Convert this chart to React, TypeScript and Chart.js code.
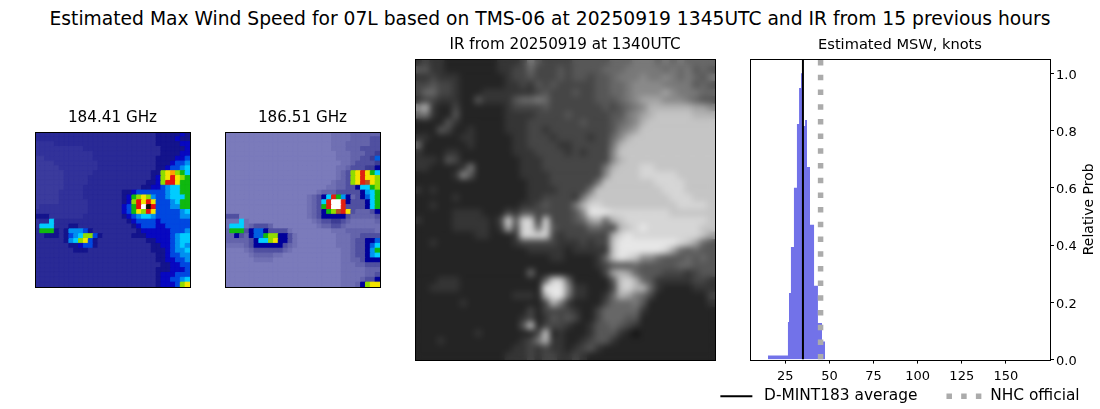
import { useEffect, useRef } from "react";
import { Chart, registerables } from "chart.js";

Chart.register(...registerables);

const FONT = "'DejaVu Sans', sans-serif";
const suptitle = "Estimated Max Wind Speed for 07L based on TMS-06 at 20250919 1345UTC and IR from 15 previous hours";
const title184 = "184.41 GHz";
const title186 = "186.51 GHz";
const titleIR = "IR from 20250919 at 1340UTC";
const titleMSW = "Estimated MSW, knots";
const yAxisTitle = "Relative Prob";
const legendMean = "D-MINT183 average";
const legendNHC = "NHC official";

const palette184: Record<string, string> = {
  "0": "#3b3b9d", "1": "#32329a", "2": "#2a2a96", "3": "#14148c", "4": "#0808c0", "5": "#0048e0", "6": "#0090f0",
  "7": "#00ccff", "8": "#10b810", "9": "#90dc00", a: "#f4e400", b: "#ffa000", c: "#e81010", d: "#101010", e: "#ffffff",
};
const palette186: Record<string, string> = {
  "0": "#7b7bbb", "1": "#7070b3", "2": "#6464ab", "3": "#5050a0", "4": "#3d3d94", n: "#00009a", "5": "#0060e0",
  "6": "#0098f0", "7": "#00d0ff", "8": "#10b810", "9": "#90dc00", a: "#f4e400", b: "#ffa000", c: "#e02010",
  k: "#b85020", d: "#101010", e: "#ffffff",
};

const grid184 = [
  "22222222 22222222 22222222 23333343",
  "22222222 22222222 22222222 23333433",
  "11112222 22222222 22222222 23333344",
  "11111111 11222222 22222222 22333334",
  "11111111 11112222 22222222 22333344",
  "00111111 11112222 22222222 23333445",
  "00001111 11111222 22222222 23334556",
  "00000111 11111222 22222222 23345567",
  "00000011 11112222 22222222 339ab987",
  "00000011 11122222 22222222 349aca98",
  "00000011 11122222 22222223 349cca88",
  "00000011 11222222 22222233 44567788",
  "00000111 11222222 22334555 55567788",
  "00000111 11222222 223489a9 65567778",
  "00000111 11122222 22349cac a5556788",
  "01111111 11122222 22458ced c5556688",
  "11111111 11122222 22458a9c a5555567",
  "33311111 11222222 22345677 65555566",
  "12272222 22222222 22234555 54555555",
  "17772223 32222222 22223455 54455555",
  "28883236 66532222 22222344 44445556",
  "22333235 67995322 22223334 44445677",
  "22222236 79a53222 22222223 34445677",
  "22222223 34553222 22222222 33445676",
  "22222222 33322222 22222222 33345667",
  "22222222 22222222 22222222 23345566",
  "22222222 22222222 22222222 23344556",
  "22222222 22222222 22222222 22334455",
  "22222222 22222222 22222222 23334445",
  "22222222 22222222 22222222 23444555",
  "22222222 22222222 22222222 23445567",
  "22222222 22222222 22222222 2344459a",
];

const grid186 = [
  "00000000 00000000 00000011 11222222",
  "00000000 00000000 00000011 11222233",
  "00000000 00000000 00000011 12222233",
  "00000000 00000000 00000011 12223333",
  "00000000 00000000 00000001 11222334",
  "00000000 00000000 00000001 11223345",
  "00000000 00000000 00000000 11233334",
  "00000000 00000000 00000001 1233344n",
  "00000000 00000000 00000001 239aca87",
  "00000000 00000000 00000001 239acaa9",
  "00000000 00000000 00000012 239acka9",
  "00000000 00000000 00000112 233n7789",
  "00000000 00000000 00012223 3333n678",
  "00000000 00000000 0123n7c8 6n23n578",
  "00000000 00000000 01237cee cn333n78",
  "00000000 00000000 01238cee c3333n78",
  "00000000 00000000 0123n89k ca32223n",
  "33300000 00000000 0123nnnn n3222223",
  "11171000 00000000 00123344 32111112",
  "17771233 32000000 00012233 21111111",
  "28883n55 n3333100 00000011 12222221",
  "22n32n55 899nn310 00000001 11223333",
  "222223n7 79ann310 00000001 11233nn5",
  "111123nn nnnn3210 00000001 11233n57",
  "00001233 33332100 00000000 11233n68",
  "00000122 22110000 00000000 11233n67",
  "00000011 11000000 00000000 11223nnn",
  "00000000 00000000 00000000 11122333",
  "00000000 00000000 00000000 11111222",
  "00000000 00000000 00000000 11111223",
  "00000000 00000000 00000000 1111233n",
  "00000000 00000000 00000000 1112n9aa",
];

const gridIR = [
  "3433222222 2333475444 4555556667 7767676666",
  "5533222222 2334464445 4555566677 7776767565",
  "3343332222 2234454445 4554556777 8778767657",
  "4454432222 2233435454 4444556678 8887777565",
  "4664432223 3333334544 4544556678 8889877766",
  "3443332253 3335667644 4444555678 9998887655",
  "8a32242222 2234444544 4444454567 8aaaaaa998",
  "6732252222 2233334444 5444445578 9abbbbbaaa",
  "2222532222 2233344444 4454445678 abbbbbbbbb",
  "2225422322 2233344344 4444445789 bbbbbbbbbb",
  "3322223322 2223344434 44434468ab bbbbbbbbbb",
  "6222222322 2223344443 3444447abb bbbbbbbbbb",
  "3222332222 2223334444 3434448bbb bbbbbbbbbb",
  "3332542222 2222333444 4444448abb bbbbbbbbbb",
  "3322223722 2222333444 444447abbb ccbbbbbbbb",
  "2222238522 2222333344 444448bbbb cccccbbbbb",
  "2222222222 2222233344 44447bbbbb bbccccbbbb",
  "3232222222 2222233334 4447bbbbbb bbbcccbbbb",
  "2222232222 2222233444 437abbbbbb bbbbcccbbb",
  "2232222222 2222334544 47accbbbbb bbbbbccccb",
  "2222233332 2243554444 458dddcccc ccccbbbbbb",
  "3222233333 24c5cc3c44 4569a6abcc cccccccccb",
  "2222233333 23a4cc6c54 4446654abc dcccccccbb",
  "2222222233 2223cccc43 444444acdc ccccccccb9",
  "2232222222 2223444443 334344bddd dddddcb965",
  "2222222222 2222233333 233333bddd dddc965655",
  "2222222222 2222222233 222236bdcb 8865556565",
  "2222222222 2222222222 2222345556 5555566555",
  "2222222222 2222262222 2222249a96 5554443455",
  "2223332222 22222226cc 6222225bca 6533333443",
  "2233332222 2222222ddd 8332224bca a632222333",
  "2222222222 2223332add 7332236a97 6422222224",
  "2222223222 22222224a7 3222246667 5222222223",
  "2222222222 2222242444 4322466666 3222222222",
  "2222222222 2222342354 5422466655 2222222222",
  "2222222222 22225b2444 3223556543 2222222222",
  "2222222232 2222224b23 2223555321 2222222222",
  "2223222222 2222347a33 2234553222 2222222222",
  "2222222222 2223343433 2345322222 2222222222",
  "2222222222 2233343443 3432222222 2222222222",
];

const histEdges = [15.2, 26.5, 27.1, 28.2, 29.9, 31.6, 32.8, 33.9, 35.0, 36.2, 37.3, 39.0, 41.3, 43.5, 45.8, 47.5];
const histProbs = [0.014, 0.131, 0.233, 0.393, 0.6, 0.823, 0.949, 1.0, 0.816, 0.837, 0.673, 0.471, 0.258, 0.128, 0.063, 0];
const meanWind = 35;
const nhcWind = 45;
const xTicks = [25, 50, 75, 100, 125, 150];
const yTicks = [0, 0.2, 0.4, 0.6, 0.8, 1.0];
const xRange = [5, 175];
const yRange = [0, 1.05];

const frame = {
  id: "frame",
  afterDraw(chart: any) {
    const { left, top, right, bottom } = chart.chartArea;
    const ctx = chart.ctx;
    ctx.save();
    ctx.strokeStyle = "#000";
    ctx.lineWidth = 1;
    ctx.strokeRect(Math.round(left) + 0.5, Math.round(top) + 0.5, Math.round(right - left), Math.round(bottom - top));
    ctx.restore();
  },
};

const soften = {
  id: "soften",
  afterDatasetsDraw(chart: any, _a: any, opts: any) {
    if (!opts.radius) return;
    const { left, top, right, bottom } = chart.chartArea;
    const ctx = chart.ctx;
    ctx.save();
    ctx.beginPath();
    ctx.rect(left, top, right - left, bottom - top);
    ctx.clip();
    ctx.filter = `blur(${opts.radius}px)`;
    ctx.drawImage(chart.canvas, left, top, right - left, bottom - top, left, top, right - left, bottom - top);
    ctx.restore();
  },
};

const rightAxisTitle = {
  id: "rightAxisTitle",
  afterDraw(chart: any, _a: any, opts: any) {
    if (!opts.text) return;
    const ctx = chart.ctx;
    const { top, bottom, right } = chart.chartArea;
    ctx.save();
    ctx.translate(right + opts.offset, (top + bottom) / 2);
    ctx.rotate(-Math.PI / 2);
    ctx.font = `14px ${FONT}`;
    ctx.fillStyle = "#000";
    ctx.textAlign = "center";
    ctx.textBaseline = "middle";
    ctx.fillText(opts.text, 0, 0);
    ctx.restore();
  },
};

// The x axis takes no room in the layout so the legend can sit level with its tick labels;
// its box is widened again after layout so the labels are not clipped away.
const xAxisRoom = {
  id: "xAxisRoom",
  afterLayout(chart: any) {
    const s = chart.scales.x;
    s.bottom = s.top + 30;
  },
};

type Box = { l: number; t: number; w: number; h: number; x1: number; y1: number; x2: number; y2: number };
const TITLE_SIZE = 15.2;
const TITLE_H = TITLE_SIZE * 1.2 + 5;

function Cells({ rows, colour, box, title, blur }: { rows: string[]; colour: (c: string) => string; box: Box; title: string; blur?: number }) {
  const ref = useRef<HTMLCanvasElement>(null);
  useEffect(() => {
    const clean = rows.map((r) => r.replace(/ /g, ""));
    const n = clean.length;
    const m = clean[0].length;
    const points: { x: number; y: number }[] = [];
    const colours: string[] = [];
    clean.forEach((row, r) => {
      for (let c = 0; c < m; c++) {
        points.push({ x: c + 0.5, y: r + 0.5 });
        colours.push(colour(row[c] ?? row[row.length - 1]));
      }
    });
    const side = (box.x2 - box.x1) / m;
    const chart = new Chart(ref.current!, {
      type: "scatter",
      data: {
        datasets: [
          {
            data: points,
            pointStyle: "rect",
            pointRadius: side / Math.SQRT2,
            pointBackgroundColor: colours,
            pointBorderColor: colours,
            pointBorderWidth: 1,
          } as any,
        ],
      },
      options: {
        responsive: false,
        animation: false,
        events: [],
        layout: {
          padding: { left: box.x1 - box.l, right: box.l + box.w - box.x2, top: box.y1 - box.t - TITLE_H, bottom: box.t + box.h - box.y2 },
        },
        scales: {
          x: { type: "linear", display: false, min: 0, max: m },
          y: { type: "linear", display: false, min: 0, max: n, reverse: true },
        },
        plugins: {
          legend: { display: false },
          tooltip: { enabled: false },
          title: {
            display: true,
            text: title,
            fullSize: false,
            color: "#000",
            font: { family: FONT, size: TITLE_SIZE, weight: "normal" },
            padding: { top: 0, bottom: 5 },
          },
          soften: { radius: blur ?? 0 },
        } as any,
      },
      plugins: [soften, frame],
    });
    return () => chart.destroy();
  }, []);
  return <canvas ref={ref} width={box.w} height={box.h} style={{ position: "absolute", left: box.l, top: box.t, width: box.w, height: box.h }} />;
}

function Histogram() {
  const ref = useRef<HTMLCanvasElement>(null);
  const box: Box = { l: 670, t: 30, w: 460, h: 379, x1: 750, y1: 59, x2: 1050, y2: 360 };
  useEffect(() => {
    const gap = 29;
    const legendFont = 15.4;
    const legendH = gap + 25;
    const hist = histEdges.map((x, i) => ({ x, y: histProbs[i] }));
    const vline = (x: number) => [{ x, y: yRange[0] }, { x, y: yRange[1] }];
    const chart = new Chart(ref.current!, {
      type: "line",
      data: {
        datasets: [
          { label: "hist", data: hist, stepped: "before", fill: "origin", backgroundColor: "#7272e9", borderWidth: 0, pointRadius: 0, order: 3 },
          { label: legendMean, data: vline(meanWind), borderColor: "#000", borderWidth: 2, pointRadius: 0, order: 2 },
          { label: legendNHC, data: vline(nhcWind), borderColor: "#ababab", borderWidth: 5.5, borderDash: [5.5, 9.2], pointRadius: 0, order: 1 },
        ] as any,
      },
      options: {
        responsive: false,
        animation: false,
        events: [],
        layout: {
          padding: {
            left: 0,
            right: 0,
            top: box.y1 - box.t - (14.6 * 1.2 + 5),
            bottom: box.t + box.h - box.y2 - legendH,
          },
        },
        scales: {
          x: {
            type: "linear",
            min: xRange[0],
            max: xRange[1],
            afterBuildTicks: (s: any) => { s.ticks = xTicks.map((value) => ({ value })); },
            afterFit: (s: any) => { s.height = 0; },
            border: { display: false },
            grid: { drawOnChartArea: false, drawTicks: true, tickLength: 4, color: "#000" },
            ticks: { color: "#000", font: { family: FONT, size: 13 }, padding: 5, maxRotation: 0, autoSkip: false },
          },
          y: {
            type: "linear",
            position: "right",
            min: yRange[0],
            max: yRange[1],
            afterBuildTicks: (s: any) => { s.ticks = yTicks.map((value) => ({ value })); },
            afterFit: (s: any) => { s.width = box.l + box.w - box.x2; },
            border: { display: false },
            grid: { drawOnChartArea: false, drawTicks: true, tickLength: 4, color: "#000" },
            ticks: { color: "#000", font: { family: FONT, size: 13 }, padding: 2, labelOffset: 2, callback: (v: any) => Number(v).toFixed(1) },
          },
          leftRoom: {
            type: "linear",
            axis: "y",
            position: "left",
            afterFit: (s: any) => { s.width = box.x1 - box.l; },
            border: { display: false },
            grid: { display: false },
            ticks: { display: false },
          },
        },
        plugins: {
          tooltip: { enabled: false },
          title: {
            display: true,
            text: titleMSW,
            fullSize: false,
            color: "#000",
            font: { family: FONT, size: 14.6, weight: "normal" },
            padding: { top: 0, bottom: 5 },
          },
          legend: {
            display: true,
            position: "bottom",
            labels: {
              usePointStyle: true,
              pointStyleWidth: 36,
              padding: gap,
              color: "#000",
              font: { family: FONT, size: legendFont },
              generateLabels: () => [
                { text: legendMean, strokeStyle: "#000", fillStyle: "#000", lineWidth: 2, lineDash: [32, 100], pointStyle: "line", datasetIndex: 1 },
                { text: legendNHC, strokeStyle: "#ababab", fillStyle: "#ababab", lineWidth: 5.5, lineDash: [5.5, 9.2], pointStyle: "line", datasetIndex: 2 },
              ],
            },
          },
          rightAxisTitle: { text: yAxisTitle, offset: 39 },
        } as any,
      },
      plugins: [xAxisRoom, frame, rightAxisTitle],
    });
    return () => chart.destroy();
  }, []);
  return <canvas ref={ref} width={box.w} height={box.h} style={{ position: "absolute", left: box.l, top: box.t, width: box.w, height: box.h }} />;
}

const gray = (c: string) => {
  const h = parseInt(c, 16);
  const v = Math.min(255, h * 17 + 2 + (h >= 9 ? 8 : 0));
  return `rgb(${v},${v},${v})`;
};

export default function App() {
  return (
    <div style={{ position: "absolute", left: 0, top: 0, width: 1100, height: 409, overflow: "hidden", background: "#fff" }}>
      <div style={{ position: "absolute", left: 0, top: 8, width: 1100, textAlign: "center", fontFamily: FONT, fontSize: 18.7, lineHeight: "22px", color: "#000", whiteSpace: "nowrap" }}>
        {suptitle}
      </div>
      <Cells rows={grid184} colour={(c) => palette184[c] ?? "#2a2a96"} title={title184} blur={0.5} box={{ l: 25, t: 100, w: 175, h: 197, x1: 35, y1: 132, x2: 190, y2: 287 }} />
      <Cells rows={grid186} colour={(c) => palette186[c] ?? "#7b7bbb"} title={title186} blur={0.5} box={{ l: 215, t: 100, w: 175, h: 197, x1: 225, y1: 132, x2: 380, y2: 287 }} />
      <Cells rows={gridIR} colour={gray} title={titleIR} blur={3} box={{ l: 405, t: 30, w: 320, h: 340, x1: 415, y1: 59, x2: 715, y2: 360 }} />
      <Histogram />
    </div>
  );
}
